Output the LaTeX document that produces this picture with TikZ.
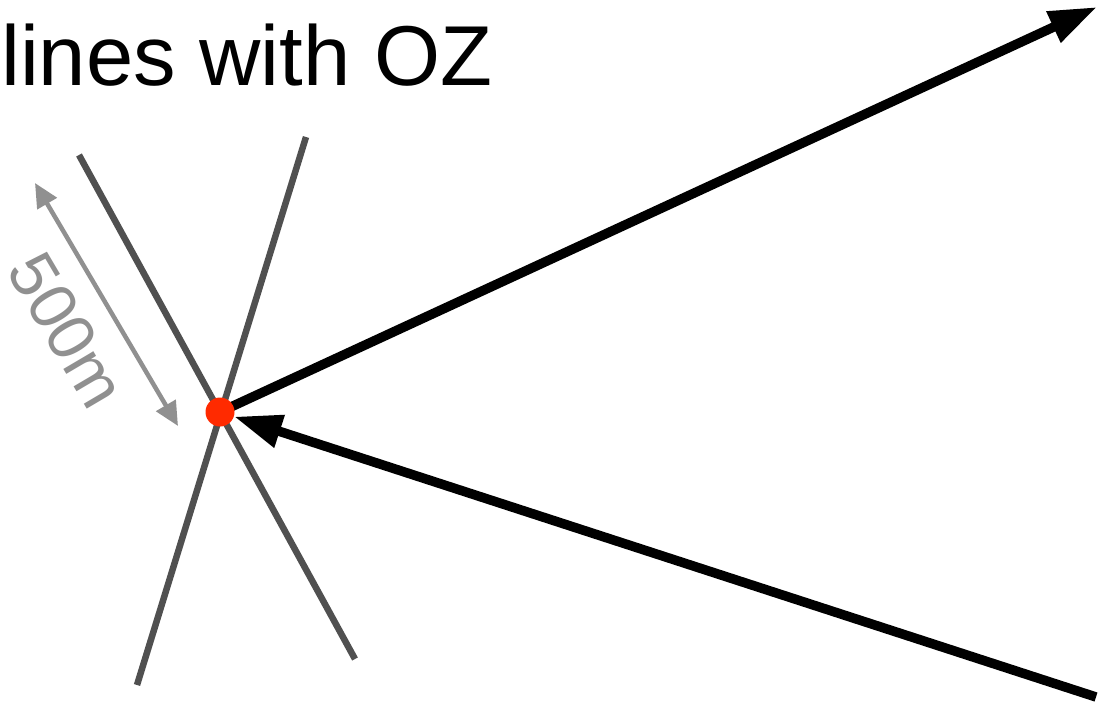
\documentclass[tikz,border=0pt]{standalone}
\usepackage{fontspec}
\setmainfont{Liberation Sans}
\usepackage{tikz}
\usetikzlibrary{arrows.meta,backgrounds}
\definecolor{ozgrey}{HTML}{505050}
\definecolor{ozlight}{HTML}{909090}
\definecolor{ozred}{HTML}{FF2A00}
\tikzset{
  oz point/.style={
    circle,
    fill=ozred,
    inner sep=0pt,
    minimum size=29pt,
  },
  oz track/.style={ozgrey, line width=6.5pt},
  oz ray/.style={-{Triangle[length=48pt,width=32pt]}, line width=9.5pt},
  oz scale/.style={
    {Triangle[length=24pt,width=22pt]}-{Triangle[length=24pt,width=22pt]},
    ozlight,
    line width=4.5pt,
  },
}

\begin{document}
\begin{tikzpicture}[x=1pt,y=-1pt]
  \useasboundingbox (0,0) rectangle (1103,704);
  \node[anchor=base west, inner sep=0pt, font=\fontsize{85}{100}\selectfont] (title) at (1,85) {lines with OZ};
  \node[oz point] (oz) at (220,412) {};
  % grey tracks through the point
  \coordinate (tracka top) at (79,155);
  \coordinate (tracka bottom) at (355,659);
  \coordinate (trackb top) at (306,137);
  \coordinate (trackb bottom) at (137,685);
  % scale bar
  \coordinate (scale top) at (35,183);
  \coordinate (scale bottom) at (178,426);
  % rays
  \coordinate (out) at (1097,7);
  \coordinate (in) at (1096,697);
  \begin{scope}[on background layer]
    \draw[oz track] (tracka top) -- (tracka bottom);
    \draw[oz track] (trackb top) -- (trackb bottom);
    \draw[oz ray] (oz.center) -- (out);
    \draw[oz ray] (in) -- (oz);
  \end{scope}
  \draw[oz scale] (scale top) -- (scale bottom);
  \node[ozlight, rotate=-59.5, inner sep=0pt, font=\fontsize{66}{80}\selectfont] (scale label) at (67,330) {500m};
\end{tikzpicture}
\end{document}
